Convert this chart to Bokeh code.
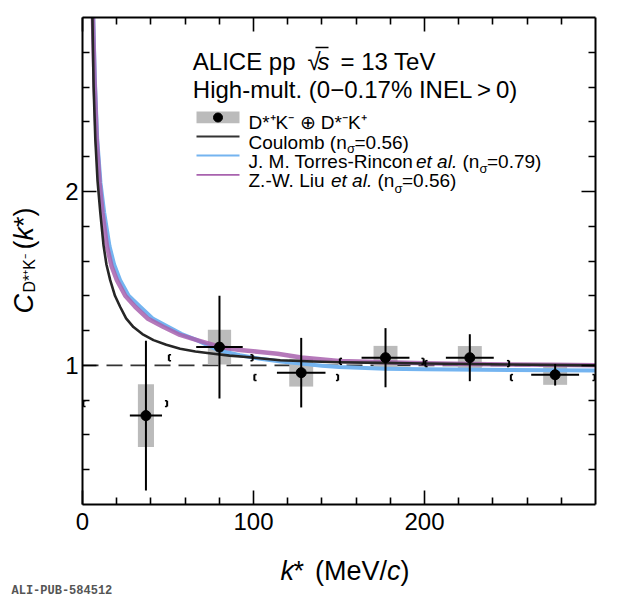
import math
from bokeh.plotting import figure
from bokeh.models import Range1d, LinearAxis, FixedTicker, Label, ColumnDataSource
from bokeh.embed import file_html
from bokeh.resources import INLINE

# ---------------- data ----------------
k_pts = [37.1, 80.1, 127.9, 177.2, 226.5, 276.4]
C_pts = [0.711, 1.105, 0.958, 1.044, 1.044, 0.946]
stat_err = [0.43, 0.295, 0.20, 0.17, 0.135, 0.062]
sys_err = [0.18, 0.10, 0.08, 0.068, 0.067, 0.058]
k_err = [9.4, 13.6, 14.2, 14.0, 14.0, 14.0]
sys_kw = [4.7, 6.8, 7.0, 7.0, 7.0, 7.0]

bin_lo = [0, 50, 100, 150, 200, 250]
bin_hi = [50, 100, 150, 200, 250, 300]
bracket_C = [0.78, 1.044, 0.93, 1.023, 1.01, 0.93]

k_coul = [5.8, 6.5, 7.5, 8.8, 10.4, 12.3, 14, 16.2, 19, 22, 25.5, 29.8, 35, 41.5, 49, 57.1,
          66, 76.6, 86, 96, 115.6, 135, 150, 175, 200, 250, 300]
C_coul = [3.0, 2.6, 2.3, 2.06, 1.88, 1.69, 1.58, 1.49, 1.40, 1.337, 1.27, 1.22, 1.18, 1.145,
          1.118, 1.096, 1.08, 1.067, 1.056, 1.048, 1.029, 1.022, 1.018, 1.014, 1.011, 1.005, 1.0]

k_liu = [6.1, 7.0, 8.3, 10, 11.7, 14.3, 17, 20.1, 25, 30.8, 38, 47.4, 57, 66.9, 80.5, 92, 104,
         114, 128, 150, 177, 200, 226, 250, 275, 300]
C_liu = [3.0, 2.65, 2.3, 2.05, 1.877, 1.685, 1.57, 1.49, 1.40, 1.337, 1.27, 1.22, 1.175, 1.145,
         1.106, 1.088, 1.077, 1.067, 1.045, 1.025, 1.018, 1.012, 1.008, 1.005, 1.003, 1.0]

k_tr = [6.3, 7.2, 8.6, 10.5, 12.7, 15.8, 18.5, 22, 27, 33.7, 41, 50.3, 58, 66.9, 80, 92, 104,
        116, 128, 140, 150, 177, 200, 250, 300]
C_tr = [3.0, 2.65, 2.3, 2.05, 1.877, 1.685, 1.58, 1.49, 1.40, 1.337, 1.27, 1.22, 1.18, 1.145,
        1.085, 1.058, 1.038, 1.022, 1.01, 0.998, 0.99, 0.981, 0.977, 0.973, 0.971]

unity_k = [0, 300]
unity_C = [1.0, 1.0]

K_MIN, K_MAX = 0, 300
C_MIN, C_MAX = 0.2, 3.0
x_major = [0, 100, 200]
x_minor = [20, 40, 60, 80, 120, 140, 160, 180, 220, 240, 260, 280]
y_major = [1, 2]
y_minor = [0.4, 0.6, 0.8, 1.2, 1.4, 1.6, 1.8, 2.2, 2.4, 2.6, 2.8]

# ---------------- layout / styles ----------------
W, H = 620, 596
FL, FR, FT, FB = 82, 595, 17, 504          # plot-box edges in canvas pixels
FONT = "Liberation Sans"
GRAY = "#bbbbbb"
BLUE = "#74b4f0"
PURPLE = "#a862ae"
BLACK_CURVE = "#262626"

sx = (FR - FL) / (K_MAX - K_MIN)
sy = (FB - FT) / (C_MAX - C_MIN)
x_rng = Range1d(K_MIN - FL / sx, K_MAX + (W - FR) / sx)
y_rng = Range1d(C_MIN - (H - FB) / sy, C_MAX + FT / sy)

p = figure(width=W, height=H, output_backend="svg", toolbar_location=None,
           x_range=x_rng, y_range=y_rng, x_axis_type=None, y_axis_type=None,
           min_border=0, min_border_left=0, min_border_right=0,
           min_border_top=0, min_border_bottom=0)
p.background_fill_color = "white"
p.border_fill_color = "white"
p.outline_line_color = None
p.grid.visible = False

# canvas-pixel helper ranges (legend swatches, texts)
p.extra_x_ranges = {"cx": Range1d(0, W)}
p.extra_y_ranges = {"cy": Range1d(H, 0)}


def make_axis(ticks, minor, loc, bounds, labels=True):
    ax = LinearAxis(ticker=FixedTicker(ticks=ticks, minor_ticks=minor),
                    fixed_location=loc, bounds=bounds)
    ax.axis_line_width = 2
    ax.axis_line_color = "black"
    ax.major_tick_in = 14
    ax.major_tick_out = 0
    ax.minor_tick_in = 7
    ax.minor_tick_out = 0
    ax.major_tick_line_width = 1.6
    ax.minor_tick_line_width = 1.6
    ax.major_tick_line_color = "black"
    ax.minor_tick_line_color = "black"
    if labels:
        ax.major_label_text_font = FONT
        ax.major_label_text_font_size = "24px"
        ax.major_label_text_color = "black"
    else:
        ax.major_label_overrides = {t: "" for t in ticks}
        ax.major_label_standoff = 0
    return ax


xb = make_axis(x_major, x_minor, C_MIN, (K_MIN, K_MAX))
xb.major_label_standoff = 8
p.add_layout(xb, "below")
yl = make_axis(y_major, y_minor, K_MIN, (C_MIN, C_MAX))
yl.major_label_standoff = 4
p.add_layout(yl, "left")
p.add_layout(make_axis(x_major, x_minor, C_MAX, (K_MIN, K_MAX), labels=False), "above")
p.add_layout(make_axis(y_major, y_minor, K_MAX, (C_MIN, C_MAX), labels=False), "right")

# ---------------- marks ----------------
p.line(unity_k, unity_C, line_color="#333333", line_width=1.6, line_dash="16 8")

src = ColumnDataSource(dict(
    k=k_pts, C=C_pts,
    box_l=[k - w for k, w in zip(k_pts, sys_kw)], box_r=[k + w for k, w in zip(k_pts, sys_kw)],
    box_b=[c - s for c, s in zip(C_pts, sys_err)], box_t=[c + s for c, s in zip(C_pts, sys_err)],
    y_lo=[c - s for c, s in zip(C_pts, stat_err)], y_hi=[c + s for c, s in zip(C_pts, stat_err)],
    x_lo=[k - e for k, e in zip(k_pts, k_err)], x_hi=[k + e for k, e in zip(k_pts, k_err)],
))
p.quad(left="box_l", right="box_r", bottom="box_b", top="box_t", source=src,
       fill_color=GRAY, line_color=None)

p.line(k_tr, C_tr, line_color=BLUE, line_width=4, line_join="round")
p.line(k_liu, C_liu, line_color=PURPLE, line_width=4.5, line_alpha=0.85, line_join="round")
p.line(k_coul, C_coul, line_color=BLACK_CURVE, line_width=2.6, line_join="round")

# small bin-edge brackets
bh = 0.017
bw = 1.3
bsrc = ColumnDataSource(dict(
    lo=[l + 0.5 for l in bin_lo], lo2=[l + 0.5 + bw for l in bin_lo],
    hi=[h - 0.5 for h in bin_hi], hi2=[h - 0.5 - bw for h in bin_hi],
    yb=[c - bh for c in bracket_C], yt=[c + bh for c in bracket_C],
))
for xa, xb_ in (("lo", "lo2"), ("hi", "hi2")):
    p.segment(x0=xa, x1=xa, y0="yb", y1="yt", source=bsrc, line_color="black", line_width=2)
    p.segment(x0=xa, x1=xb_, y0="yb", y1="yb", source=bsrc, line_color="black", line_width=1.5)
    p.segment(x0=xa, x1=xb_, y0="yt", y1="yt", source=bsrc, line_color="black", line_width=1.5)

p.segment(x0="k", x1="k", y0="y_lo", y1="y_hi", source=src, line_color="black", line_width=2)
p.segment(x0="x_lo", x1="x_hi", y0="C", y1="C", source=src, line_color="black", line_width=2)
p.scatter(x="k", y="C", source=src, size=10, marker="circle", fill_color="black",
          line_color="black")


# ---------------- texts (canvas pixel positions) ----------------
def T(x, y, s, size, style="normal", angle=0.0, color="black", font=FONT):
    p.add_layout(Label(x=x, y=y, x_range_name="cx", y_range_name="cy", text=s,
                       text_font=font, text_font_size=f"{size}px", text_font_style=style,
                       text_color=color, angle=angle, text_align="left",
                       text_baseline="alphabetic", level="overlay"))


# header
T(192.3, 60.7, "ALICE pp", 24)
T(307, 60.7, "\u221a", 24)
T(317, 60.7, "s", 24, "italic")
T(340, 60.7, "= 13 TeV", 24)
p.segment(x0=[315], x1=[328], y0=[47], y1=[47], x_range_name="cx", y_range_name="cy",
          line_color="black", line_width=1.5)
T(192.3, 89.3, "High-mult. (0\u22120.17% INEL\u2009>\u20090)", 24)

# legend swatches
p.quad(left=[196], right=[239], top=[111], bottom=[122.7], x_range_name="cx",
       y_range_name="cy", fill_color=GRAY, line_color=None)
p.scatter(x=[217.5], y=[117], x_range_name="cx", y_range_name="cy", size=9,
          fill_color="black", line_color="black")
for yy, col in ((136, "#333333"), (155, BLUE), (174.3, PURPLE)):
    p.line(x=[196, 239], y=[yy, yy], x_range_name="cx", y_range_name="cy",
           line_color=col, line_width=1.8)

LX = 248
T(LX, 121.5, "D*\u207aK\u207b \u2295 D*\u207bK\u207a", 19)
T(LX, 141.5, "Coulomb (n", 19)
T(346.5, 148.3, "\u03c3", 13)
T(354, 141.5, "=0.56)", 19)
T(LX, 160.7, "J. M. Torres-Rincon", 19)
T(415.5, 160.7, "et al.", 19, "italic")
T(462, 160.7, "(n", 19)
T(479, 168.0, "\u03c3", 13)
T(486.5, 160.7, "=0.79)", 19)
T(LX, 180, "Z.-W. Liu", 19)
T(330.5, 180, "et al.", 19, "italic")
T(377, 180, "(n", 19)
T(394, 187.5, "\u03c3", 13)
T(401.5, 180, "=0.56)", 19)

# axis titles
T(280, 570.7, "k", 27, "italic")
T(293, 570.7, "*", 27)
T(314.5, 570.7, "(MeV/", 27)
T(386.5, 570.7, "c", 27, "italic")
T(400, 570.7, ")", 27)

A = math.pi / 2
T(23, 313, "C", 27, "italic", angle=A)
T(29, 292, "D*\u207aK\u207b", 16, angle=A)
T(23, 249, "(", 27, angle=A)
T(23, 240, "k", 27, "italic", angle=A)
T(23, 226.5, "*)", 27, angle=A)

T(11, 590, "ALI-PUB-584512", 12, "bold", color="#555555", font="Liberation Mono")

open("out.html", "w").write(file_html(p, INLINE))
